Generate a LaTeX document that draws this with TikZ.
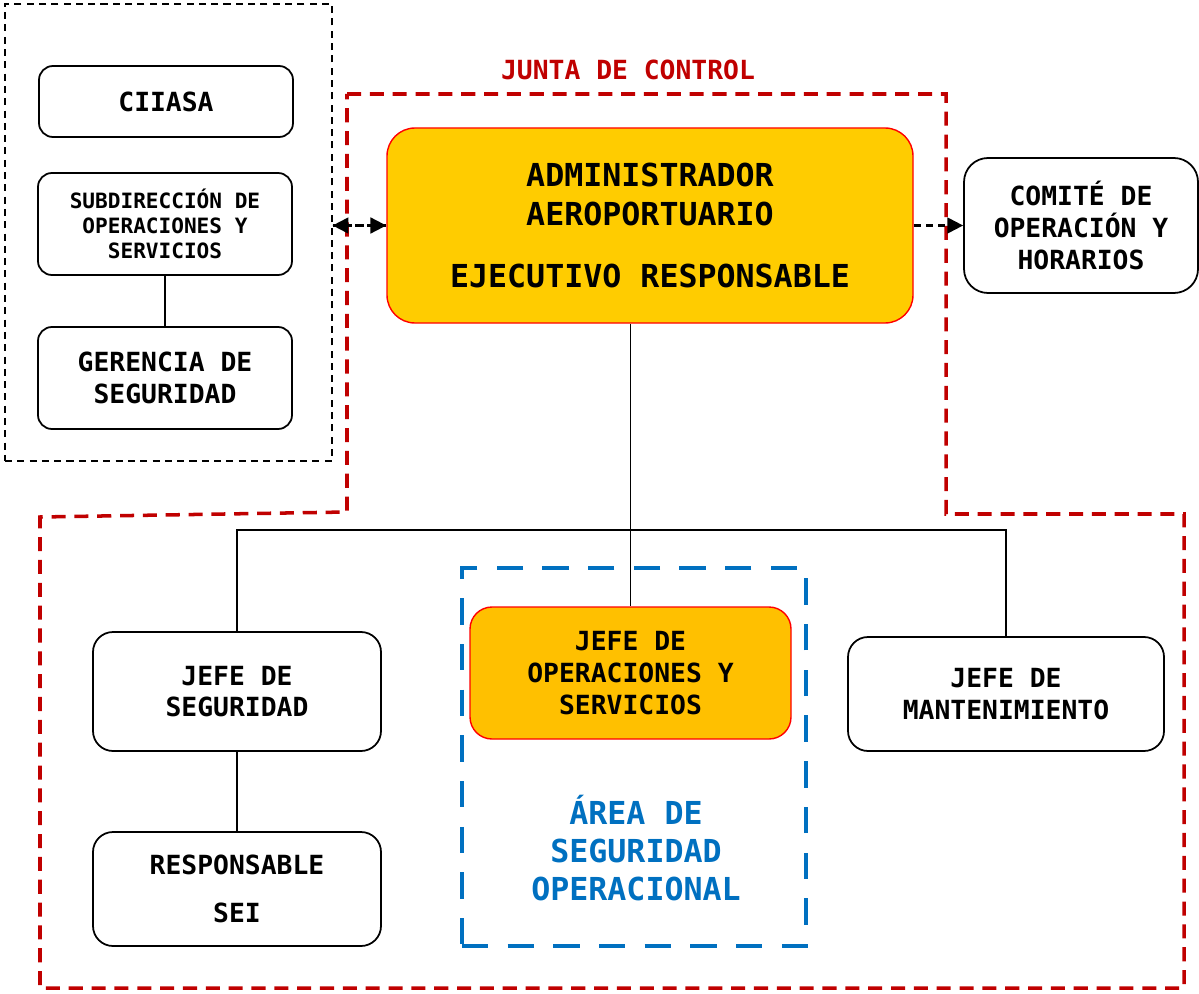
\documentclass[tikz,border=0pt]{standalone}
\usepackage{fontspec}
\setmonofont{DejaVu Sans Mono}
\usetikzlibrary{arrows.meta}

\newlength\pxu
\setlength\pxu{0.02cm}
\definecolor{juntared}{HTML}{C00000}
\definecolor{areablue}{HTML}{0070C0}
\definecolor{admingold}{HTML}{FFCC00}
\definecolor{opsgold}{HTML}{FFC000}

\tikzset{
  box/.style={draw, line width=1pt, rounded corners=14\pxu, inner sep=0pt,
    align=center, font=\ttfamily\bfseries\fontsize{15}{18}\selectfont},
  keybox/.style={box, draw=red, line width=0.8pt, rounded corners=28\pxu},
  link/.style={line width=0.8pt},
  dashlink/.style={line width=1.2pt, dash pattern=on 4pt off 3pt,
    -{Triangle[length=9pt,width=9pt]}},
}

\begin{document}
\begin{tikzpicture}[x=0.02cm, y=-0.02cm]
    \useasboundingbox (0,0) rectangle (1199,993);

    % external group
    \node [draw, line width=0.7pt, dash pattern=on 4pt off 3pt, inner sep=0pt,
      minimum width=327\pxu, minimum height=457\pxu] (extgroup) at (168.5,232.5) {};
    \node [box, minimum width=254\pxu, minimum height=71\pxu] (ciiasa) at (166,101.5) {CIIASA};
    \node [box, minimum width=254\pxu, minimum height=102\pxu,
      font=\ttfamily\bfseries\fontsize{12}{14.2}\selectfont] (subdir) at (165,224)
      {SUBDIRECCIÓN DE\\OPERACIONES Y\\SERVICIOS};
    \node [box, minimum width=254\pxu, minimum height=102\pxu] (gerencia) at (165,378)
      {GERENCIA DE\\SEGURIDAD};
    \draw [link] (subdir) -- (gerencia);

    % junta de control
    \draw [juntared, line width=2pt, dash pattern=on 8pt off 5pt]
      (347,94) -- (946,94) -- (946,514) -- (1184,514) -- (1184,988)
      -- (40,988) -- (40,517) -- (347,512) -- cycle;
    \node [text=juntared, font=\ttfamily\bfseries\fontsize{15}{18}\selectfont]
      (junta) at (628,70) {JUNTA DE CONTROL};

    \node [keybox, fill=admingold, minimum width=526\pxu, minimum height=195\pxu,
      font=\ttfamily\bfseries\fontsize{18}{22}\selectfont] (admin) at (650,225.5)
      {ADMINISTRADOR\\AEROPORTUARIO\\[13pt]EJECUTIVO RESPONSABLE};
    \node [box, rounded corners=24\pxu, minimum width=234\pxu, minimum height=135\pxu]
      (comite) at (1081,225.5) {COMITÉ DE\\OPERACIÓN Y\\HORARIOS};

    \draw [dashlink] (admin.east) -- (comite.west);
    \draw [dashlink] (admin.west -| extgroup.east) -- (admin.west);
    \draw [dashlink] (admin.west) -- (admin.west -| extgroup.east);

    % area de seguridad operacional
    \node [draw=areablue, line width=2.8pt, dash pattern=on 15pt off 11pt, inner sep=0pt,
      minimum width=344\pxu, minimum height=378\pxu] (area) at (634,757) {};
    \node [keybox, fill=opsgold, rounded corners=22\pxu, minimum width=321\pxu,
      minimum height=132\pxu] (ops) at (630.5,673) {JEFE DE\\OPERACIONES Y\\SERVICIOS};
    \node [text=areablue, align=center,
      font=\ttfamily\bfseries\fontsize{18}{21.6}\selectfont] (arealabel) at (636,848)
      {ÁREA DE\\SEGURIDAD\\OPERACIONAL};

    \node [box, rounded corners=20\pxu, minimum width=288\pxu, minimum height=119\pxu]
      (jefeseg) at (237,691.5) {JEFE DE\\SEGURIDAD};
    \node [box, rounded corners=20\pxu, minimum width=288\pxu, minimum height=114\pxu]
      (sei) at (237,889) {RESPONSABLE\\[9pt]SEI};
    \node [box, rounded corners=20\pxu, minimum width=316\pxu, minimum height=114\pxu]
      (mantto) at (1006,694) {JEFE DE\\MANTENIMIENTO};

    \coordinate (bus) at (633,530);
    \draw [link] (ops.north |- admin.south) -- (ops.north);
    \draw [link] (jefeseg.north) -- (jefeseg.north |- bus) -- (mantto.north |- bus)
      -- (mantto.north);
    \draw [link] (jefeseg) -- (sei);
\end{tikzpicture}
\end{document}
